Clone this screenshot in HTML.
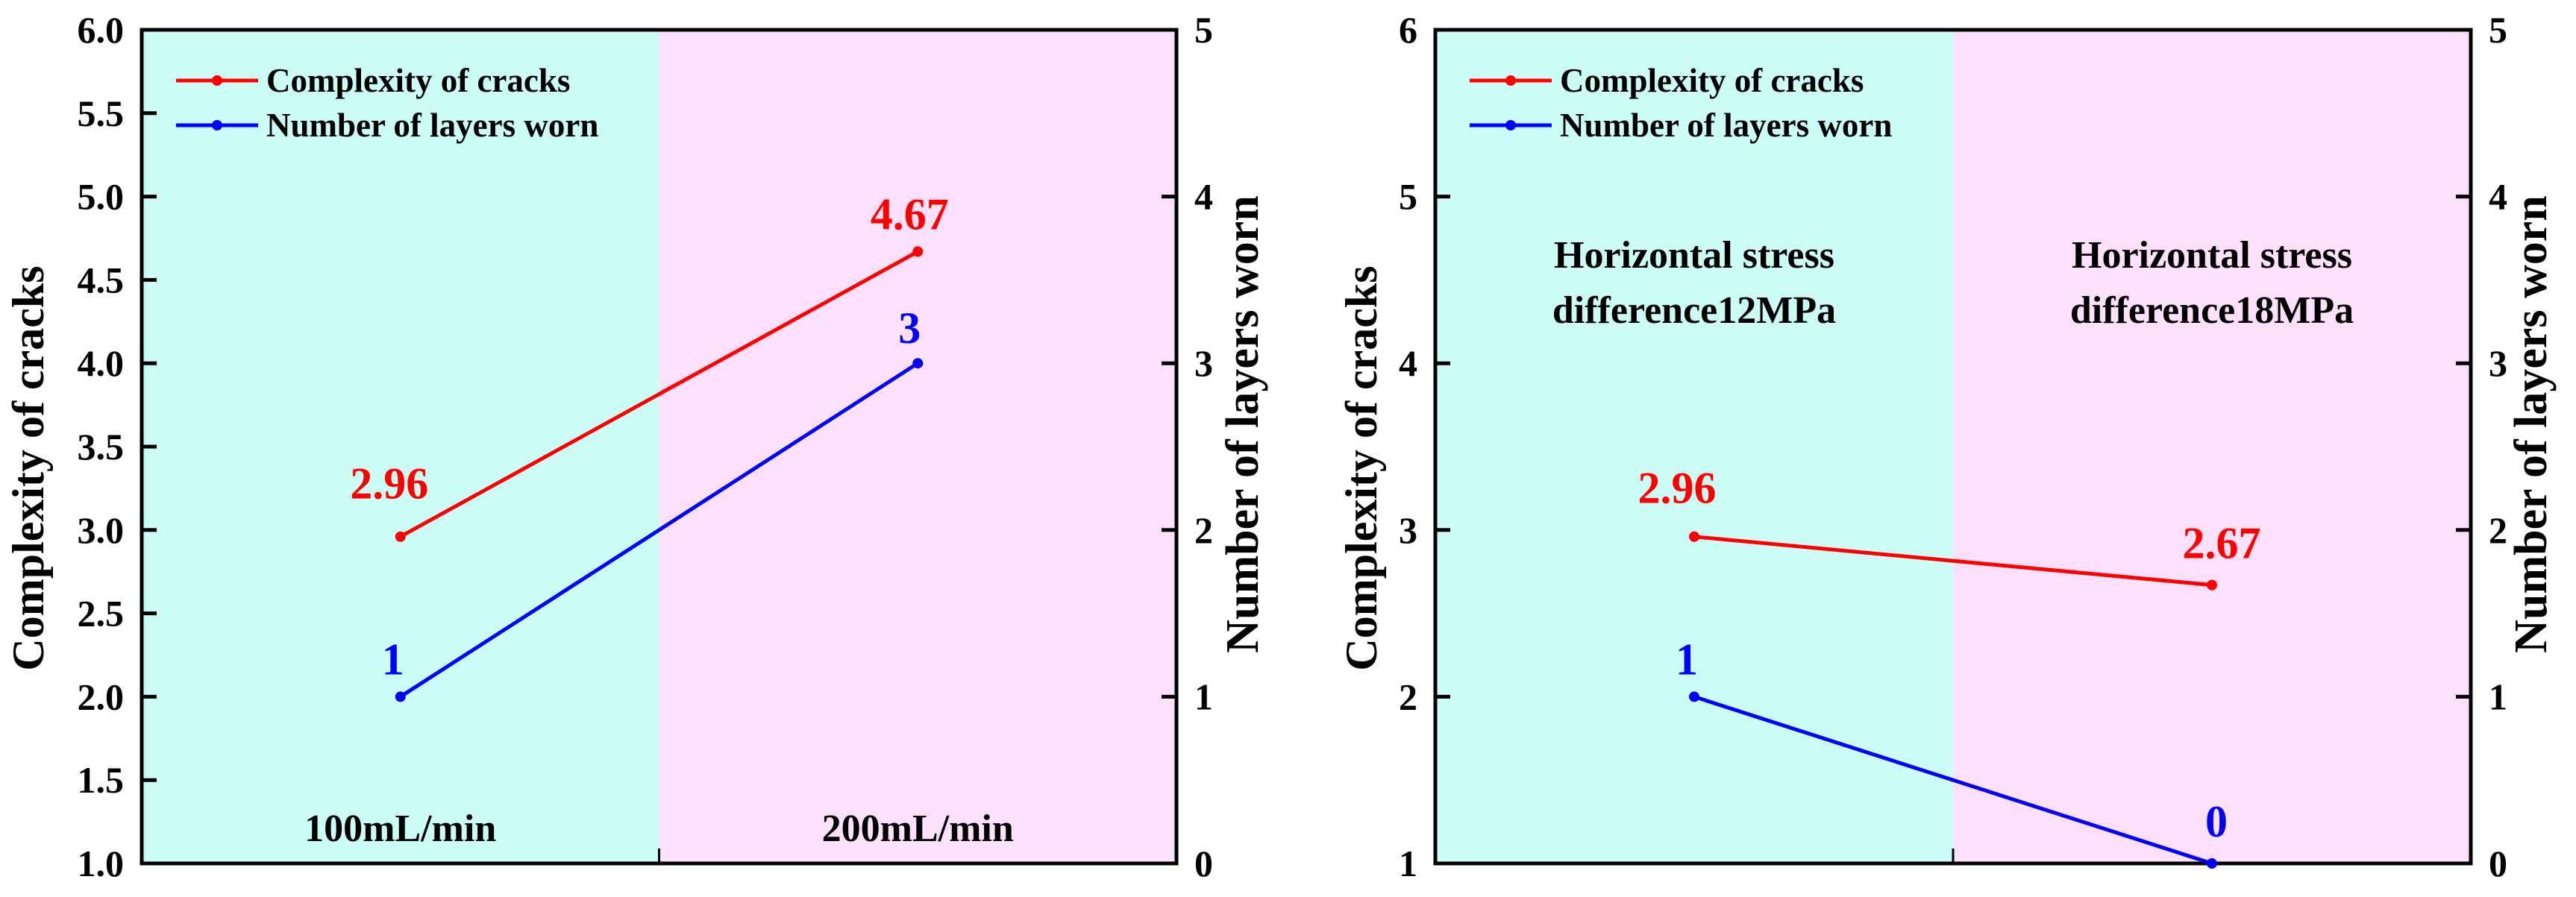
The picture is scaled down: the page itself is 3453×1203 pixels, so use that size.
<!DOCTYPE html>
<html><head><meta charset="utf-8"><style>
html,body{margin:0;padding:0;background:#fff;}
svg{display:block;font-family:"Liberation Serif",serif;font-weight:bold;}
</style></head><body>
<svg id="fig" width="3453" height="1203" viewBox="0 0 3453 1203" xmlns="http://www.w3.org/2000/svg"></svg>
<script>
// ---- data ----
const leftCategories = ["100mL/min", "200mL/min"];
const leftComplexity = [2.96, 4.67];
const leftLayers = [1, 3];
const rightCategories = [["Horizontal stress", "difference12MPa"], ["Horizontal stress", "difference18MPa"]];
const rightComplexity = [2.96, 2.67];
const rightLayers = [1, 0];
const leftYTicks = ["1.0","1.5","2.0","2.5","3.0","3.5","4.0","4.5","5.0","5.5","6.0"];
const rightYTicksA = ["1","2","3","4","5","6"];
const y2Ticks = ["0","1","2","3","4","5"];
const legendLabels = ["Complexity of cracks", "Number of layers worn"];

const NS = "http://www.w3.org/2000/svg";
const svg = document.getElementById('fig');
function mk(tag, attrs, parent, text){
  const e = document.createElementNS(NS, tag);
  for (const k in attrs) e.setAttribute(k, attrs[k]);
  if (text !== undefined) e.textContent = text;
  (parent || svg).appendChild(e);
  return e;
}
const TOP = 40, BOT = 1158;

function panel(cfg){
  const g = mk('g', {});
  
  
  const x0 = cfg.x0, x1 = cfg.x1, mid = (x0 + x1) / 2;
  const yL = v => BOT - (v - cfg.yMin) / (cfg.yMax - cfg.yMin) * (BOT - TOP);
  const yR = v => BOT - (v - 0) / 5 * (BOT - TOP);
  const xC = i => x0 + (x1 - x0) * (i + 0.5) / 2;

  const b1 = mk('rect', {x:x0, y:TOP, width:mid-x0, height:BOT-TOP, fill:'#ccfcf6'}, g);
  
  
  const b2 = mk('rect', {x:mid, y:TOP, width:x1-mid, height:BOT-TOP, fill:'#fde0fc'}, g);
  
  

  const fr = mk('rect', {x:x0, y:TOP, width:x1-x0, height:BOT-TOP, fill:'none', stroke:'#000', 'stroke-width':5}, g);
  
  
  mk('line', {x1:mid, y1:BOT, x2:mid, y2:BOT-20, stroke:'#000', 'stroke-width':3}, g);

  cfg.yTicks.forEach(t => {
    const v = parseFloat(t), y = yL(v);
    if (v > cfg.yMin && v < cfg.yMax) mk('line', {x1:x0, y1:y, x2:x0+20, y2:y, stroke:'#000', 'stroke-width':5}, g);
    const tl = mk('text', {x:x0-24, y:y+17, 'text-anchor':'end', 'font-size':50}, g, t);
    
    
  });
  y2Ticks.forEach(t => {
    const v = parseFloat(t), y = yR(v);
    if (v > 0 && v < 5) mk('line', {x1:x1, y1:y, x2:x1-20, y2:y, stroke:'#000', 'stroke-width':5}, g);
    const tl = mk('text', {x:x1+24, y:y+17, 'text-anchor':'start', 'font-size':50}, g, t);
    
    
  });

  const at1 = mk('text', {x:0, y:0, 'text-anchor':'middle', 'font-size':60, transform:`translate(${cfg.t1x},${cfg.t1y}) rotate(-90)`}, g, legendLabels[0]);
  
  
  const at2 = mk('text', {x:0, y:0, 'text-anchor':'middle', 'font-size':62, transform:`translate(${cfg.t2x},${cfg.t2y}) rotate(-90)`}, g, legendLabels[1]);
  
  

  cfg.categories.forEach((c, i) => {
    const lines = Array.isArray(c) ? c : [c];
    lines.forEach((ln, j) => {
      const ct = mk('text', {x:xC(i), y:cfg.catY + j*74, 'text-anchor':'middle', 'font-size':52}, g, ln);
      
      
    });
  });

  const series = [
    {vals:cfg.complexity, sc:yL, color:'#ff0000', name:'complexity', fmt:v=>v.toFixed(2), dx:cfg.cdx, dy:cfg.cdy},
    {vals:cfg.layers, sc:yR, color:'#0000ff', name:'layers', fmt:v=>String(v), dx:cfg.ldx, dy:cfg.ldy}
  ];
  series.forEach(s => {
    const pts = s.vals.map((v, i) => [xC(i), s.sc(v)]);
    const pl = mk('polyline', {points:pts.map(p=>p.join(',')).join(' '), fill:'none', stroke:s.color, 'stroke-width':5}, g);
    
    
    pts.forEach((p, i) => {
      const c = mk('circle', {cx:p[0], cy:p[1], r:7, fill:s.color}, g);
      
      
      const lb = mk('text', {x:p[0] + s.dx[i], y:p[1] - s.dy[i], 'text-anchor':'middle', 'font-size':60, fill:s.color}, g, s.fmt(s.vals[i]));
      
      
    });
  });

  const lx = x0 + 46;
  [['#ff0000', 108], ['#0000ff', 168]].forEach((e, i) => {
    const lg = mk('g', {}, g);
    
    
    mk('line', {x1:lx, y1:e[1], x2:lx+110, y2:e[1], stroke:e[0], 'stroke-width':5}, lg);
    mk('circle', {cx:lx+55, cy:e[1], r:7, fill:e[0]}, lg);
    mk('text', {x:lx+121, y:e[1]+15, 'font-size':45}, lg, legendLabels[i]);
  });
}

panel({name:'left-chart', x0:190, x1:1577, yMin:1, yMax:6, yTicks:leftYTicks,
  categories:leftCategories, complexity:leftComplexity, layers:leftLayers, catY:1128,
  t1x:58, t1y:628, t2x:1686, t2y:569,
  cdx:[-15,-11], cdy:[51,30], ldx:[-10,-11], ldy:[30,27]});
panel({name:'right-chart', x0:1924, x1:3312, yMin:1, yMax:6, yTicks:rightYTicksA,
  categories:rightCategories, complexity:rightComplexity, layers:rightLayers, catY:359,
  t1x:1845, t1y:628, t2x:3413, t2y:569,
  cdx:[-23,13], cdy:[45,36], ldx:[-10,6], ldy:[30,36]});
</script>
</body></html>
